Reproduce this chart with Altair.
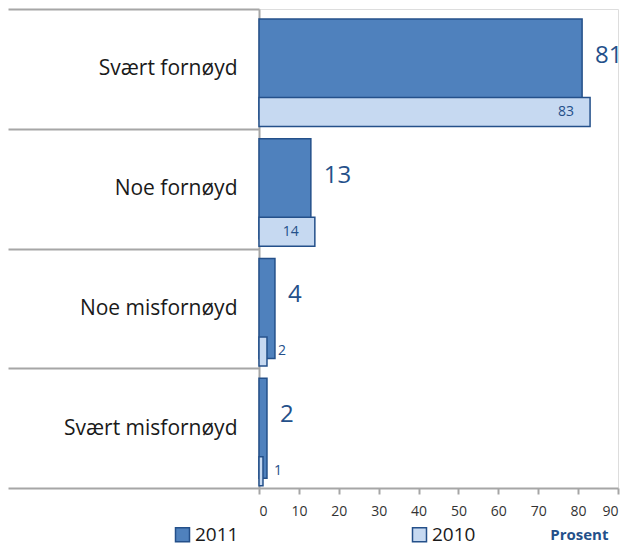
import altair as alt
import pandas as pd

categories = ["Svært fornøyd", "Noe fornøyd", "Noe misfornøyd", "Svært misfornøyd"]
years = ["2011", "2010"]
v2011 = [81, 13, 4, 2]
v2010 = [83, 14, 2, 1]
x_ticks = [0, 10, 20, 30, 40, 50, 60, 70, 80, 90]

rows = []
for c, a, b in zip(categories, v2011, v2010):
    rows.append({"kategori": c, "år": "2011", "verdi": a})
    rows.append({"kategori": c, "år": "2010", "verdi": b})
df = pd.DataFrame(rows)

FONT = "Open Sans"
DARK = "#24508A"
GRID = "#A6A6A6"

y_enc = alt.Y(
    "kategori:N",
    sort=categories,
    title=None,
    scale=alt.Scale(paddingInner=0, paddingOuter=0),
    axis=alt.Axis(
        tickBand="extent",
        tickSize=251,
        tickColor=GRID,
        tickWidth=2,
        domainColor=GRID,
        domainWidth=2,
        labelPadding=-229,
        labelFontSize=21,
        labelFont=FONT,
        labelColor="#1a1a1a",
        labelLimit=300,
    ),
)
x_enc = alt.X(
    "verdi:Q",
    scale=alt.Scale(domain=[0, 90], nice=False),
    axis=alt.Axis(
        values=x_ticks,
        labelOverlap=False,
        grid=False,
        tickColor=GRID,
        tickWidth=2,
        tickSize=6,
        domainColor=GRID,
        domainWidth=2,
        labelFont=FONT,
        labelFontSize=14,
        labelColor="#333333",
        labelPadding=10,
        title="Prosent",
        titleFont=FONT,
        titleFontSize=15,
        titleFontWeight="bold",
        titleColor=DARK,
        titleAnchor="end",
        titleAlign="right",
        titleX=349,
        titleY=39,
        titleBaseline="top",
    ),
)
color_enc = alt.Color(
    "år:N",
    scale=alt.Scale(domain=years, range=["#4F81BD", "#C6D9F1"]),
    legend=alt.Legend(
        title=None,
        orient="none",
        direction="horizontal",
        legendX=-86,
        legendY=516,
        symbolType="square",
        symbolSize=196,
        symbolStrokeColor=DARK,
        symbolStrokeWidth=1.5,
        symbolOpacity=1,
        labelFont=FONT,
        labelFontSize=19,
        labelColor="#1a1a1a",
        labelOffset=3,
        columnPadding=170,
    ),
)

base = alt.Chart(df)

bar2011 = base.transform_filter(alt.datum["år"] == "2011").mark_bar(
    height=100, stroke=DARK, strokeWidth=1.5, opacity=1
).encode(y=y_enc, x=x_enc, color=color_enc)

bar2010 = base.transform_filter(alt.datum["år"] == "2010").mark_bar(
    height=29, yOffset=43, stroke=DARK, strokeWidth=1.5, opacity=1
).encode(y=y_enc, x=x_enc, color=color_enc)

lab2011 = base.transform_filter(alt.datum["år"] == "2011").mark_text(
    align="left", baseline="middle", dx=13, dy=-13, font=FONT, fontSize=24, color=DARK
).encode(y=y_enc, x=x_enc, text="verdi:Q")

lab2010_in = base.transform_filter(
    (alt.datum["år"] == "2010") & (alt.datum.verdi >= 10)
).mark_text(
    align="right", baseline="middle", dx=-16, dy=43, font=FONT, fontSize=14, color=DARK
).encode(y=y_enc, x=x_enc, text="verdi:Q")

lab2010_out = base.transform_filter(
    (alt.datum["år"] == "2010") & (alt.datum.verdi < 10)
).mark_text(
    align="left", baseline="middle", dx=11, dy=43, font=FONT, fontSize=14, color=DARK
).encode(y=y_enc, x=x_enc, text="verdi:Q")

chart = alt.layer(bar2011, bar2010, lab2011, lab2010_in, lab2010_out).properties(
    width=359,
    height=479,
    autosize=alt.AutoSizeParams(type="none"),
    padding={"left": 251, "top": 1, "right": 4, "bottom": 60},
).configure_view(stroke=GRID, strokeWidth=2).configure(background="white")

chart.save("out.html", embed_options={"renderer": "svg", "actions": False})
